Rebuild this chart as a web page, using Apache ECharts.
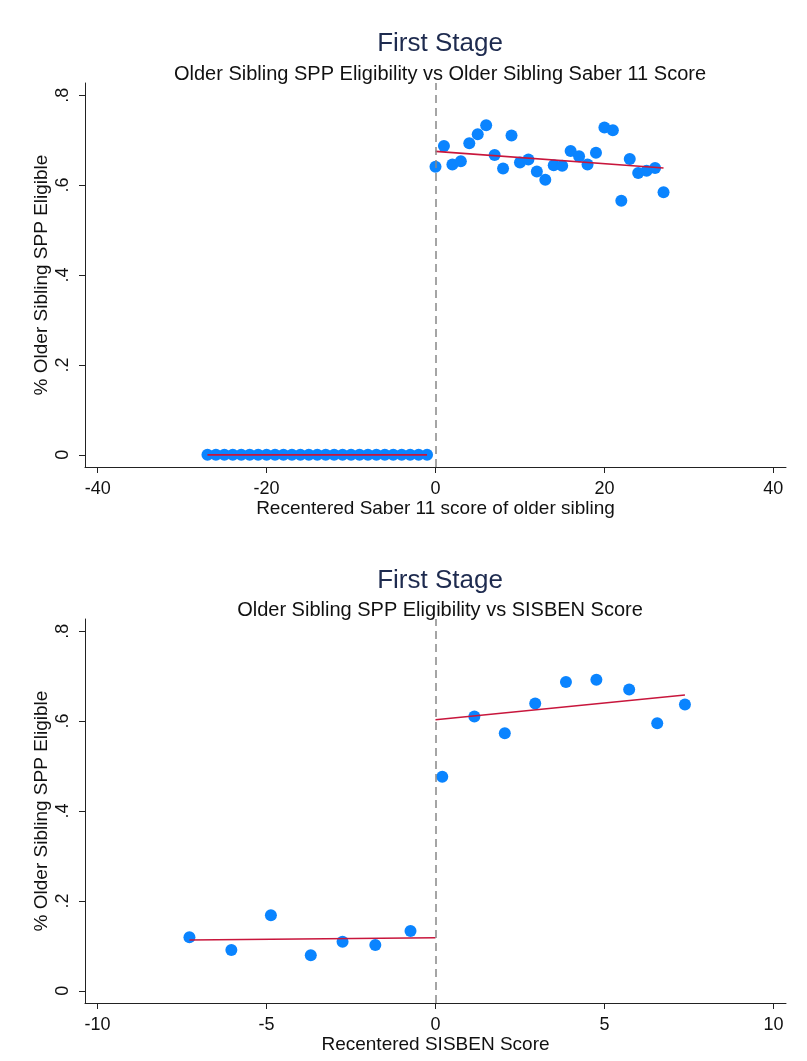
<!DOCTYPE html>
<html lang="en">
<head>
    <meta charset="utf-8">
    <title>First Stage</title>
    <script src="https://cdn.jsdelivr.net/npm/echarts@6/dist/echarts.min.js"></script>
    <style>
        html, body { margin: 0; padding: 0; background: #fff; }
        #chart { width: 807px; height: 1061px; }
    </style>
</head>
<body>
<div id="chart"></div>
<script>
    // top panel: Saber 11 score bins
    var saberLeftX = [-27,-26,-25,-24,-23,-22,-21,-20,-19,-18,-17,-16,-15,-14,-13,-12,-11,-10,-9,-8,-7,-6,-5,-4,-3,-2,-1];
    var saberLeftY = [0,0,0,0,0,0,0,0,0,0,0,0,0,0,0,0,0,0,0,0,0,0,0,0,0,0,0];
    var saberRightX = [0,1,2,3,4,5,6,7,8,9,10,11,12,13,14,15,16,17,18,19,20,21,22,23,24,25,26,27];
    var saberRightY = [0.641,0.687,0.646,0.653,0.693,0.713,0.733,0.667,0.637,0.710,0.650,0.657,0.630,0.612,
                       0.644,0.643,0.676,0.664,0.646,0.672,0.728,0.722,0.565,0.658,0.627,0.632,0.638,0.584];
    var saberFitLeft = [[-27, 0], [-1, 0]];
    var saberFitRight = [[0, 0.675], [27, 0.638]];
    var saberTicks = [-40, -20, 0, 20, 40];

    // bottom panel: SISBEN score bins
    var sisbenLeftX = [-7.28,-6.04,-4.87,-3.69,-2.75,-1.78,-0.74];
    var sisbenLeftY = [0.119,0.091,0.168,0.079,0.109,0.102,0.133];
    var sisbenRightX = [0.2,1.15,2.05,2.95,3.86,4.76,5.73,6.56,7.38];
    var sisbenRightY = [0.476,0.610,0.573,0.639,0.687,0.692,0.670,0.595,0.637];
    var sisbenFitLeft = [[-7.28, 0.113], [0, 0.118]];
    var sisbenFitRight = [[0, 0.603], [7.38, 0.658]];
    var sisbenTicks = [-10, -5, 0, 5, 10];

    var yTicks = [0, 0.2, 0.4, 0.6, 0.8];

    var font = "'Liberation Sans', Arial, sans-serif";
    var dotColor = '#0a84ff';
    var fitColor = '#c8163c';

    function pairs(xs, ys) {
        return xs.map(function (x, i) { return [x, ys[i]]; });
    }

    function yLabel(v) {
        if (v === 0) return '0';
        return String(Math.round(v * 10) / 10).replace('0.', '.');
    }

    function xAxisCfg(idx, min, max, ticks, name) {
        return {
            gridIndex: idx, type: 'value', min: min, max: max,
            name: name, nameLocation: 'middle', nameGap: 32,
            nameTextStyle: { fontFamily: font, fontSize: 19, color: '#111' },
            axisLine: { show: true, onZero: false, lineStyle: { color: '#222', width: 1 } },
            axisTick: { show: true, length: 6, customValues: ticks, lineStyle: { color: '#222' } },
            axisLabel: { customValues: ticks, margin: 13, fontFamily: font, fontSize: 18, color: '#111' },
            splitLine: { show: false }
        };
    }

    function yAxisCfg(idx) {
        return {
            gridIndex: idx, type: 'value', min: -0.027, max: 0.827,
            name: '% Older Sibling SPP Eligible', nameLocation: 'middle', nameGap: 34,
            nameMoveOverlap: false,
            nameTextStyle: { fontFamily: font, fontSize: 19, color: '#111' },
            axisLine: { show: true, onZero: false, lineStyle: { color: '#222', width: 1 } },
            axisTick: { show: true, length: 6, customValues: yTicks, lineStyle: { color: '#222' } },
            axisLabel: { customValues: yTicks, rotate: 90, margin: 13, fontFamily: font, fontSize: 18,
                         color: '#111', formatter: yLabel },
            splitLine: { show: false }
        };
    }

    function dots(idx, data) {
        return {
            type: 'scatter', xAxisIndex: idx, yAxisIndex: idx, data: data,
            symbolSize: 12, itemStyle: { color: dotColor, opacity: 1 }, z: 3
        };
    }

    function fit(idx, data) {
        return {
            type: 'line', xAxisIndex: idx, yAxisIndex: idx, data: data,
            symbol: 'none', lineStyle: { color: fitColor, width: 1.6 }, z: 4
        };
    }

    function cutoff(idx) {
        return {
            type: 'line', xAxisIndex: idx, yAxisIndex: idx, data: [], z: 2,
            markLine: {
                silent: true, symbol: 'none', label: { show: false },
                lineStyle: { color: '#888', type: [8, 5], width: 1.5 },
                data: [{ xAxis: 0 }]
            }
        };
    }

    var chart = echarts.init(document.getElementById('chart'), null, { renderer: 'canvas' });
    chart.setOption({
        backgroundColor: '#fff',
        animation: false,
        title: [
            { text: 'First Stage', left: 435, top: 26, textAlign: 'center',
              textStyle: { fontFamily: font, fontSize: 26, fontWeight: 'normal', color: '#1e2b4f' } },
            { text: 'Older Sibling SPP Eligibility vs Older Sibling Saber 11 Score', left: 435, top: 59, textAlign: 'center',
              textStyle: { fontFamily: font, fontSize: 20, fontWeight: 'normal', color: '#111' } },
            { text: 'First Stage', left: 435, top: 563, textAlign: 'center',
              textStyle: { fontFamily: font, fontSize: 26, fontWeight: 'normal', color: '#1e2b4f' } },
            { text: 'Older Sibling SPP Eligibility vs SISBEN Score', left: 435, top: 595, textAlign: 'center',
              textStyle: { fontFamily: font, fontSize: 20, fontWeight: 'normal', color: '#111' } }
        ],
        grid: [
            { left: 85, top: 83, width: 701, height: 384 },
            { left: 85, top: 619, width: 701, height: 384 }
        ],
        xAxis: [
            xAxisCfg(0, -41.5, 41.5, saberTicks, 'Recentered Saber 11 score of older sibling'),
            xAxisCfg(1, -10.37, 10.37, sisbenTicks, 'Recentered SISBEN Score')
        ],
        yAxis: [yAxisCfg(0), yAxisCfg(1)],
        series: [
            cutoff(0),
            dots(0, pairs(saberLeftX, saberLeftY)),
            dots(0, pairs(saberRightX, saberRightY)),
            fit(0, saberFitLeft),
            fit(0, saberFitRight),
            cutoff(1),
            dots(1, pairs(sisbenLeftX, sisbenLeftY)),
            dots(1, pairs(sisbenRightX, sisbenRightY)),
            fit(1, sisbenFitLeft),
            fit(1, sisbenFitRight)
        ]
    });
</script>
</body>
</html>
